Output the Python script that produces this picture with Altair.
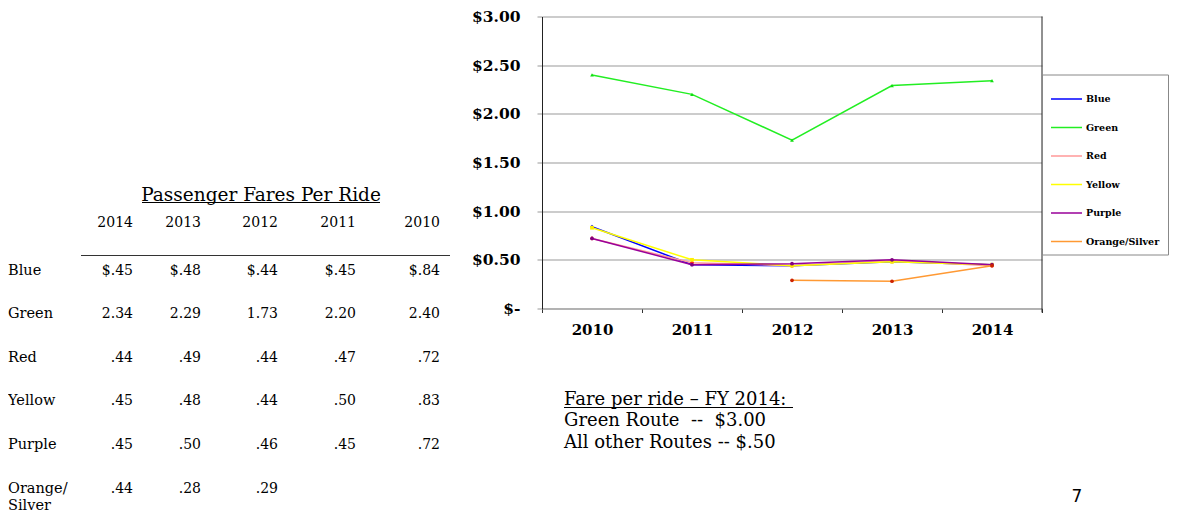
import altair as alt
import pandas as pd

# ---------------- data ----------------
years = [2010, 2011, 2012, 2013, 2014]
routes = ["Blue", "Green", "Red", "Yellow", "Purple", "Orange/Silver"]
blue = [0.84, 0.45, 0.44, 0.48, 0.45]
green = [2.40, 2.20, 1.73, 2.29, 2.34]
red = [0.72, 0.47, 0.44, 0.49, 0.44]
yellow = [0.83, 0.50, 0.44, 0.48, 0.45]
purple = [0.72, 0.45, 0.46, 0.50, 0.45]
orange_silver = [None, None, 0.29, 0.28, 0.44]
table_years = [2014, 2013, 2012, 2011, 2010]
y_ticks = [0, 0.5, 1.0, 1.5, 2.0, 2.5, 3.0]

title_text = "Passenger Fares Per Ride"
note_lines = ["Fare per ride \u2013 FY 2014:",
              "Green Route\u00a0\u00a0--\u00a0\u00a0$3.00",
              "All other Routes -- $.50"]
page_number = "7"

line_colors = ["#0000FF", "#22EE22", "#FF9999", "#FFFF00", "#990099", "#FF9933"]
marker_colors = ["#0000FF", "#11DD11", "#FF2222", "#FFEE00", "#800080", "#CC2200"]
marker_shapes = ["diamond", "triangle-up", "cross", "square", "circle", "circle"]

series = dict(zip(routes, [blue, green, red, yellow, purple, orange_silver]))
rows = []
for r in routes:
    for yr, v in zip(years, series[r]):
        if v is not None:
            rows.append({"route": r, "year": yr, "fare": v})
df = pd.DataFrame(rows)


def fare_label(route, v):
    s = f"{v:.2f}"
    if v < 1:
        s = s[1:]
    if route == "Blue":
        s = "$" + s
    return s


tdf = pd.DataFrame([{"troute": d["route"], "tyear": d["year"],
                     "label": fare_label(d["route"], d["fare"])} for d in rows])
route_df = pd.DataFrame({"troute": routes,
                         "name": [r.replace("/", "/\n") for r in routes]})
year_df = pd.DataFrame({"tyear": table_years, "label": [str(y) for y in table_years]})
one = pd.DataFrame({"a": [0]})

SERIF = "DejaVu Serif"

# ---------------- left: table ----------------
tx = alt.X("tyear:Q", axis=None,
           scale=alt.Scale(domain=table_years, range=[125, 193, 270, 348, 432],
                           zero=False, nice=False))
ty = alt.Y("troute:N", axis=None,
           scale=alt.Scale(type="point", domain=routes, range=[253, 471], padding=0))

t_title = alt.Chart(one).mark_text(font=SERIF, fontSize=18.5, align="center",
                                   baseline="alphabetic", dy=6, color="black").encode(
    x=alt.value(253), y=alt.value(178), text=alt.value(title_text))
t_title_rule = alt.Chart(one).mark_rule(color="black", strokeWidth=1).encode(
    x=alt.value(134), x2=alt.value(372), y=alt.value(186))
t_head = alt.Chart(year_df).mark_text(font=SERIF, fontSize=14, align="right",
                                      baseline="alphabetic", dy=5, color="black").encode(
    x=tx, y=alt.value(205), text="label:N")
t_head_rule = alt.Chart(one).mark_rule(color="#333", strokeWidth=1.2).encode(
    x=alt.value(73), x2=alt.value(442), y=alt.value(239))
t_names = alt.Chart(route_df).mark_text(font=SERIF, fontSize=14.5, align="left",
                                        baseline="alphabetic", dy=5, lineBreak="\n",
                                        lineHeight=17, color="black").encode(
    x=alt.value(0), y=ty, text="name:N")
t_vals = alt.Chart(tdf).mark_text(font=SERIF, fontSize=14, align="right",
                                  baseline="alphabetic", dy=5, color="black").encode(
    x=tx, y=ty, text="label:N")

left = alt.layer(t_title, t_title_rule, t_head, t_head_rule, t_names, t_vals).properties(
    width=450, height=497)

# ---------------- right: line chart ----------------
color_enc = alt.Color("route:N", scale=alt.Scale(domain=routes, range=line_colors),
                      legend=alt.Legend(title=None, orient="none", legendX=1034, legendY=58,
                                        symbolType="stroke", symbolSize=961,
                                        symbolStrokeWidth=1.5, labelFont=SERIF,
                                        labelFontWeight="bold", labelFontSize=9.5,
                                        labelColor="black", strokeColor="#888",
                                        fillColor="white", padding=8, rowPadding=7.5,
                                        labelOffset=3, labelLimit=80))

base = alt.Chart(df).encode(
    x=alt.X("year:O", bandPosition=0.5,
            scale=alt.Scale(type="band", domain=years, paddingInner=0, paddingOuter=0),
            axis=alt.Axis(title=None, labelAngle=0, tickBand="extent", grid=False,
                          domainColor="#999", tickColor="#333", tickSize=4,
                          labelFont=SERIF, labelFontWeight="bold", labelFontSize=15,
                          labelColor="black", labelPadding=10)),
    y=alt.Y("fare:Q", scale=alt.Scale(domain=[0, 3], nice=False),
            axis=alt.Axis(title=None, values=y_ticks, grid=True, gridColor="#999",
                          domainColor="#222", tickColor="#999", tickSize=5,
                          labelPadding=17, labelFont=SERIF, labelFontWeight="bold",
                          labelFontSize=15.5, labelColor="black",
                          labelExpr="datum.value == 0 ? '$-' : '$' + format(datum.value, '.2f')")),
)

layers = []
for i, r in enumerate(routes):
    sub = base.transform_filter(alt.datum.route == r)
    layers.append(sub.mark_line(strokeWidth=1.5).encode(color=color_enc))
    layers.append(sub.mark_point(filled=True, size=14, shape=marker_shapes[i],
                                 color=marker_colors[i], opacity=1))

right_border = alt.Chart(one).mark_rule(color="#222", strokeWidth=1).encode(
    x=alt.value(500), y=alt.value(0), y2=alt.value(296))

notes = []
for k, (txt, yy) in enumerate(zip(note_lines, [383, 404, 426])):
    notes.append(alt.Chart(one).mark_text(font=SERIF, fontSize=18, align="left",
                                          baseline="alphabetic", dy=5.5, color="black").encode(
        x=alt.value(22), y=alt.value(yy), text=alt.value(txt)))
note_rule = alt.Chart(one).mark_rule(color="black", strokeWidth=1).encode(
    x=alt.value(22), x2=alt.value(251), y=alt.value(391))
page_num = alt.Chart(one).mark_text(font="DejaVu Sans", fontSize=17, align="center",
                                    baseline="middle", color="black").encode(
    x=alt.value(535), y=alt.value(480), text=alt.value(page_number))

right = alt.layer(*layers, right_border, *notes, note_rule, page_num).properties(
    width=500, height=292)

chart = alt.hconcat(left, right, spacing=84, bounds="flush").resolve_scale(
    x="independent", y="independent").configure_view(stroke=None).properties(
    padding={"left": 0, "top": 1.5, "right": 0, "bottom": 0})

chart.save("out.html", embed_options={"renderer": "svg", "actions": False})
